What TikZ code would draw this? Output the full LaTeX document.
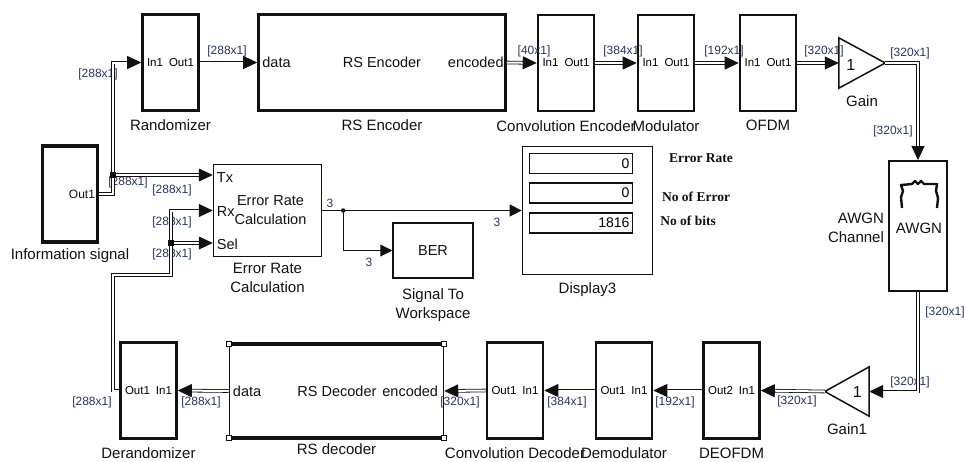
\documentclass[tikz,border=0pt]{standalone}
\usepackage{fontspec}
\setmainfont{Liberation Sans}
\newfontfamily\timesfam{Liberation Serif}
\usepackage{tikz}
\usetikzlibrary{arrows.meta,positioning,calc}
\definecolor{ink}{HTML}{111111}
\definecolor{dimblue}{HTML}{26365E}
\tikzset{>={Triangle[length=12pt,width=12pt]},
  blk/.style={draw=ink,line width=2.6pt,minimum width=56pt,minimum height=96pt,inner sep=0pt,
    font=\fontsize{11.5}{13}\selectfont},
  thinblk/.style={blk,line width=1.5pt},
  blkcap/.style={font=\fontsize{15}{19}\selectfont,text=ink,align=center,inner sep=1pt},
  txt/.style={font=\fontsize{14.5}{19}\selectfont,text=ink,align=center,inner sep=1pt},
  dimlbl/.style={font=\fontsize{12}{14}\selectfont,text=dimblue,inner sep=0pt},
  disptxt/.style={font=\timesfam\bfseries\fontsize{13.5}{16}\selectfont,text=ink,inner sep=0pt},
  sig/.style={-{Triangle[length=14pt,width=13pt,fill=ink]},sigline},
  sigline/.style={draw=ink,line width=0.8pt,double=white,double distance=2pt},
  scal/.style={->,draw=ink,line width=1pt},
  junc/.style={fill=ink,minimum size=6pt,inner sep=0pt},
  dot/.style={circle,fill=ink,minimum size=4.5pt,inner sep=0pt},
  handle/.style={draw=ink,fill=white,line width=0.8pt,minimum size=5pt,inner sep=0pt},
  fld/.style={draw=ink,line width=1.5pt,text width=97pt,inner xsep=3pt,minimum height=20pt,
    align=right,font=\fontsize{14}{16}\selectfont}}

\begin{document}
\begin{tikzpicture}[x=1pt,y=-1pt,node distance=7pt]
  \path[use as bounding box,fill=white] (0,0) rectangle (965,461);

  % transmit chain
  \node[blk,line width=3.4pt,minimum width=55pt] (info) at (70,194) {};
  \node[txt,anchor=east,font=\fontsize{12}{14}\selectfont] at ($(info.east)+(-3,0)$) {Out1};
  \node[blk] (rand) at (170.5,62.5) {In1\hspace{6pt}Out1};
  \node[blk,minimum width=247pt] (rsenc) at (382,62.5) {};
  \node[txt,anchor=west] at ($(rsenc.west)+(4,0)$) {data};
  \node[txt] at (rsenc.center) {RS Encoder};
  \node[txt,anchor=east] at ($(rsenc.east)+(-2,0)$) {encoded};
  \node[blk] (cenc) at (566,63) {In1\hspace{6pt}Out1};
  \node[blk] (mod) at (666,63) {In1\hspace{6pt}Out1};
  \node[blk] (ofdm) at (768,63) {In1\hspace{6pt}Out1};
  \node[minimum width=46pt,minimum height=50pt,inner sep=0pt] (gain) at (862,63) {};
  \draw[ink,line width=1.5pt] (gain.north west) -- (gain.east) -- (gain.south west) -- cycle;
  \node[blkcap,font=\fontsize{16}{19}\selectfont] at ($(gain.west)+(12,2)$) {1};
  \node[thinblk,line width=1.8pt,minimum width=58pt,minimum height=130pt] (awgn) at (918,226) {};
  \node[blkcap] at ($(awgn.center)+(1,2)$) {AWGN};
  \begin{scope}[shift={(awgn.center)}]
    \draw[ink,line width=2.4pt,line join=round]
      (-16,-18) -- (-17,-29) -- (-15,-35) -- (-17,-41) -- (-6,-42) -- (-3,-45) -- (0,-42)
      -- (3,-45) -- (6,-42) -- (19,-42) -- (18,-35) -- (20,-28) -- (19,-18);
  \end{scope}

  % receive chain
  \node[minimum width=44pt,minimum height=49pt,inner sep=0pt] (gain1) at (847,391.5) {};
  \draw[ink,line width=1.5pt] (gain1.north east) -- (gain1.west) -- (gain1.south east) -- cycle;
  \node[blkcap,font=\fontsize{16}{19}\selectfont] at ($(gain1.east)+(-12,0)$) {1};
  \node[blk] (deofdm) at (731.5,390.5) {Out2\hspace{6pt}In1};
  \node[blk] (demod) at (624,390.5) {Out1\hspace{6pt}In1};
  \node[blk] (cdec) at (515,390.5) {Out1\hspace{6pt}In1};
  \node[thinblk,minimum width=214pt,minimum height=92pt] (rsdec) at (336.5,391) {};
  \draw[ink,line width=3.6pt] (rsdec.north west) -- (rsdec.north east);
  \draw[ink,line width=3.6pt] (rsdec.south west) -- (rsdec.south east);
  \foreach \c in {north west,north east,south west,south east}
    \node[handle] at (rsdec.\c) {};
  \node[txt,anchor=west] at ($(rsdec.west)+(3,0)$) {data};
  \node[txt,anchor=east] at ($(rsdec.east)+(-5,0)$) {RS Decoder\hspace{6pt}encoded};
  \node[blk] (derand) at (148.5,390.5) {Out1\hspace{6pt}In1};

  % error rate part
  \node[thinblk,minimum width=108pt,minimum height=92pt] (erc) at (267.5,210.5) {};
  \node[txt] at ($(erc.center)+(3,0)$) {Error Rate\\Calculation};
  \coordinate (erc-tx) at ($(erc.west)+(0,-35.5)$);
  \coordinate (erc-rx) at (erc.west);
  \coordinate (erc-sel) at ($(erc.west)+(0,32.5)$);
  \node[txt,anchor=west] at ($(erc-tx)+(3,3)$) {Tx};
  \node[txt,anchor=west] at ($(erc-rx)+(3,1)$) {Rx};
  \node[txt,anchor=west] at ($(erc-sel)+(3,1)$) {Sel};
  \node[thinblk,minimum width=80pt,minimum height=55pt] (ber) at (433,250.5) {};
  \node[txt] at (ber.center) {BER};
  \node[thinblk,line width=1.7pt,minimum width=130pt,minimum height=128pt] (disp) at (587.5,210.5) {};
  \node[fld] (f1) at (581,163.5) {0};
  \node[fld] (f2) at (581,193) {0};
  \node[fld] (f3) at (581,223) {1816};
  \node[disptxt] at (701,158) {Error Rate};
  \node[disptxt] at (696,197) {No of Error};
  \node[disptxt] at (688,221) {No of bits};

  % captions
  \node[blkcap,below=4pt of info] {Information signal};
  \node[blkcap,below=of rand] {Randomizer};
  \node[blkcap,below=of rsenc] {RS Encoder};
  \node[blkcap,below=of cenc] {Convolution Encoder};
  \node[blkcap,below=of mod] {Modulator};
  \node[blkcap,below=of ofdm] {OFDM};
  \node[blkcap,below=6pt of gain] {Gain};
  \node[blkcap,left=3pt of awgn,align=right,yshift=-2pt] {AWGN\\Channel};
  \node[blkcap,below=6pt of gain1] {Gain1};
  \node[blkcap,below=of deofdm] {DEOFDM};
  \node[blkcap,below=of demod] {Demodulator};
  \node[blkcap,below=of cdec] {Convolution Decoder};
  \node[blkcap,below=5pt of rsdec] {RS decoder};
  \node[blkcap,below=of derand] {Derandomizer};
  \node[blkcap,below=5pt of erc] {Error Rate\\Calculation};
  \node[blkcap,below=9pt of ber] {Signal To\\Workspace};
  \node[blkcap,below=6pt of disp] {Display3};

  % signal sizes
  \node[dimlbl] at (98,74) {[288x1]};
  \node[dimlbl] at (128,182) {[288x1]};
  \node[dimlbl] at (172,190) {[288x1]};
  \node[dimlbl] at (172,222) {[288x1]};
  \node[dimlbl] at (172,254) {[288x1]};
  \node[dimlbl] at (227,51) {[288x1]};
  \node[dimlbl] at (534,51) {[40x1]};
  \node[dimlbl] at (623,51) {[384x1]};
  \node[dimlbl] at (724,51) {[192x1]};
  \node[dimlbl] at (824,51) {[320x1]};
  \node[dimlbl] at (910,53) {[320x1]};
  \node[dimlbl] at (893,131) {[320x1]};
  \node[dimlbl] at (945,312) {[320x1]};
  \node[dimlbl] at (910,382) {[320x1]};
  \node[dimlbl] at (797,401) {[320x1]};
  \node[dimlbl] at (675,402) {[192x1]};
  \node[dimlbl] at (567,402) {[384x1]};
  \node[dimlbl] at (460,402) {[320x1]};
  \node[dimlbl] at (201,402) {[288x1]};
  \node[dimlbl] at (92,402) {[288x1]};
  \node[dimlbl] at (330,203) {3};
  \node[dimlbl] at (497,222) {3};
  \node[dimlbl] at (369,262) {3};

  % connections
  \coordinate (jn1) at (113,175);
  \coordinate (bend) at (113,275);
  \coordinate (jn2) at (171,243);
  \coordinate (jn3) at ($(erc.east)+(21,0)$);
  \draw[sig] (info.east) -| (jn1) |- (rand.west);
  \draw[sig] (jn1) -- (erc-tx);
  \draw[sig] (rand.east) -- (rsenc.west);
  \draw[sig] (rsenc.east) -- (cenc.west);
  \draw[sig] (cenc.east) -- (mod.west);
  \draw[sig] (mod.east) -- (ofdm.west);
  \draw[sig] (ofdm.east) -- (gain.west);
  \draw[sig] (gain.east) -| (awgn.north);
  \draw[sig] (awgn.south) |- (gain1.east);
  \draw[sig] (gain1.west) -- (deofdm.east);
  \draw[sig] (deofdm.west) -- (demod.east);
  \draw[sig] (demod.west) -- (cdec.east);
  \draw[sig] (cdec.west) -- (rsdec.east);
  \draw[sig] (rsdec.west) -- (derand.east);
  \draw[sigline] (derand.west) -| (bend) -| (jn2);
  \draw[sig] (jn2) |- (erc-rx);
  \draw[sig] (jn2) -- (erc-sel);
  \draw[scal] (erc.east) -- (disp.west);
  \draw[scal] (jn3) |- (ber.west);
  \node[junc] at (jn1) {};
  \node[junc] at (jn2) {};
  \node[dot] at (jn3) {};
\end{tikzpicture}
\end{document}
